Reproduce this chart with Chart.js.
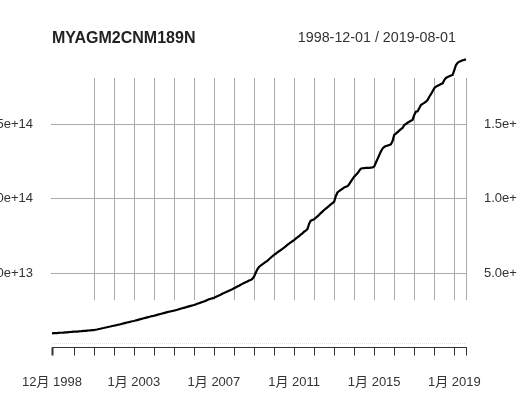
<!DOCTYPE html>
<html>
<head>
<meta charset="utf-8">
<script src="https://cdn.jsdelivr.net/npm/chart.js@4/dist/chart.umd.min.js"></script>
<style>
  html, body { margin: 0; padding: 0; background: #fff; }
  canvas { display: block; }
</style>
</head>
<body>
<canvas id="chart" width="518" height="399"></canvas>
<script>
const seriesName = 'MYAGM2CNM189N';
const rangeText = '1998-12-01 / 2019-08-01';

// monthly, 1998-12 .. 2019-08, in units of 1e12
const m2Values = [
  9.5,
  9.6, 9.6, 9.7, 9.8, 9.9, 9.9, 10.0, 10.1, 10.2, 10.3, 10.4, 10.5,
  10.6, 10.7, 10.7, 10.8, 10.9, 11.0, 11.1, 11.2, 11.3, 11.4, 11.5, 11.6,
  11.7, 11.9, 12.1, 12.4, 12.6, 12.9, 13.1, 13.4, 13.6, 13.9, 14.1, 14.4,
  14.6, 14.8, 15.1, 15.4, 15.6, 15.9, 16.2, 16.5, 16.8, 17.0, 17.3, 17.6,
  17.8, 18.1, 18.4, 18.7, 19.0, 19.3, 19.6, 19.9, 20.2, 20.5, 20.8, 21.1,
  21.3, 21.6, 21.9, 22.2, 22.5, 22.8, 23.1, 23.4, 23.7, 24.0, 24.2, 24.5,
  24.7, 25.0, 25.3, 25.7, 26.0, 26.3, 26.6, 26.9, 27.3, 27.6, 27.9, 28.2,
  28.5, 28.9, 29.3, 29.7, 30.1, 30.5, 30.9, 31.3, 31.8, 32.3, 32.7, 33.0,
  33.4, 33.9, 34.4, 34.9, 35.4, 36.0, 36.5, 37.0, 37.6, 38.1, 38.6, 39.1,
  39.7, 40.3, 40.9, 41.5, 42.1, 42.7, 43.3, 43.8, 44.3, 45.0, 45.3, 46.0,
  47.5, 50.0, 52.5, 54.0, 55.0, 55.8, 56.6, 57.4, 58.2, 59.2, 60.2, 61.2,
  62.1, 62.9, 63.8, 64.6, 65.4, 66.2, 67.0, 67.9, 68.8, 69.7, 70.5, 71.3,
  72.1, 73.0, 73.9, 74.8, 75.7, 76.6, 77.7, 78.4, 79.5, 83.0, 85.1, 85.6,
  86.0, 87.0, 88.0, 89.0, 90.2, 91.2, 92.3, 93.2, 94.1, 95.0, 96.0, 96.9,
  97.8, 101.5, 104.0, 105.0, 105.8, 106.5, 107.4, 107.9, 108.2, 109.5, 111.3, 113.0,
  114.6, 115.8, 116.9, 118.5, 120.0, 120.3, 120.4, 120.5, 120.6, 120.6, 120.7, 120.8,
  121.5, 124.0, 126.5, 129.0, 131.5, 133.5, 134.6, 135.2, 135.5, 135.9, 136.3, 138.5,
  142.6, 143.5, 144.5, 145.5, 146.5, 147.3, 149.3, 150.0, 150.8, 151.5, 152.2, 152.7,
  156.0, 158.2, 158.5, 160.5, 162.7, 163.5, 164.2, 165.0, 166.1, 168.3, 170.0, 172.0,
  174.0, 175.0, 175.6, 176.2, 176.8, 177.3, 179.5, 180.9, 181.5, 182.0, 182.5, 182.9,
  186.2, 189.6, 191.0, 191.8, 192.2, 192.8, 193.0, 193.4
];

// y ticks (same 1e12 units) and their labels
const yTickValues = [50, 100, 150];
const yTickLabels = ['5.0e+13', '1.0e+14', '1.5e+14'];

// x: month index from 1998-12; ticks at each January plus both ends
const xTickIndex = [0, 13, 25, 37, 49, 61, 73, 85, 97, 109, 121, 133, 145, 157, 169, 181, 193, 205, 217, 229, 241, 248];
const xGridIndex = [25, 37, 49, 61, 73, 85, 97, 109, 121, 133, 145, 157, 169, 181, 193, 205, 217, 229, 241, 248];
const xLabelIndex = [0, 49, 97, 145, 193, 241];
const xLabels = ['12月 1998', '1月 2003', '1月 2007', '1月 2011', '1月 2015', '1月 2019'];

const FONT = '"Liberation Sans", Arial, "Noto Sans CJK SC", sans-serif';

const xtsDecor = {
  id: 'xtsDecor',
  beforeDatasetsDraw(chart) {
    const { ctx, chartArea, scales } = chart;
    const x = scales.x, y = scales.y;
    ctx.save();
    ctx.lineWidth = 1;
    ctx.strokeStyle = '#aaaaaa';
    // horizontal grid
    yTickValues.forEach((v) => {
      const py = Math.round(y.getPixelForValue(v)) + 0.5;
      ctx.beginPath();
      ctx.moveTo(chartArea.left - 1, py);
      ctx.lineTo(chartArea.right, py);
      ctx.stroke();
    });
    // vertical grid
    xGridIndex.forEach((i) => {
      const px = Math.round(x.getPixelForValue(i)) + 0.5;
      ctx.beginPath();
      ctx.moveTo(px, 78);
      ctx.lineTo(px, 300);
      ctx.stroke();
    });
    // dotted line along the bottom
    ctx.strokeStyle = '#dddddd';
    ctx.setLineDash([1, 1]);
    ctx.beginPath();
    ctx.moveTo(chartArea.left, 343.5);
    ctx.lineTo(chartArea.right, 343.5);
    ctx.stroke();
    ctx.setLineDash([]);
    ctx.restore();
  },
  afterDraw(chart) {
    const { ctx, chartArea, scales } = chart;
    const x = scales.x, y = scales.y;
    ctx.save();
    // title and range
    ctx.fillStyle = '#222222';
    ctx.font = 'bold 16px ' + FONT;
    ctx.textBaseline = 'alphabetic';
    ctx.textAlign = 'left';
    ctx.fillText(seriesName, 52, 42.5);
    ctx.font = '14.3px ' + FONT;
    ctx.fillStyle = '#333333';
    ctx.textAlign = 'right';
    ctx.fillText(rangeText, 456, 42);

    // x axis line and ticks
    ctx.strokeStyle = '#333333';
    ctx.lineWidth = 1;
    const axisY = 347.5;
    ctx.beginPath();
    ctx.moveTo(chartArea.left, axisY);
    ctx.lineTo(chartArea.right + 1, axisY);
    ctx.stroke();
    xTickIndex.forEach((i, k) => {
      const px = Math.round(x.getPixelForValue(i)) + 0.5;
      ctx.lineWidth = k === 0 ? 2 : 1;
      ctx.beginPath();
      ctx.moveTo(px, axisY);
      ctx.lineTo(px, axisY + 8);
      ctx.stroke();
    });

    // x labels
    ctx.font = '13px ' + FONT;
    ctx.fillStyle = '#333333';
    ctx.textAlign = 'center';
    ctx.textBaseline = 'middle';
    xLabelIndex.forEach((i, k) => {
      ctx.fillText(xLabels[k], x.getPixelForValue(i), 382);
    });

    // y labels, both sides
    yTickValues.forEach((v, k) => {
      const py = y.getPixelForValue(v);
      ctx.textAlign = 'right';
      ctx.fillText(yTickLabels[k], 33, py);
      ctx.textAlign = 'left';
      ctx.fillText(yTickLabels[k], 484, py);
    });
    ctx.restore();
  }
};

new Chart(document.getElementById('chart'), {
  type: 'line',
  data: {
    datasets: [{
      label: seriesName,
      data: m2Values.map((v, i) => ({ x: i, y: v })),
      borderColor: '#000000',
      borderWidth: 2.2,
      pointRadius: 0,
      tension: 0,
      fill: false
    }]
  },
  options: {
    responsive: false,
    animation: false,
    layout: { padding: { left: 52, right: 52, top: 52, bottom: 56 } },
    plugins: { legend: { display: false }, tooltip: { enabled: false } },
    scales: {
      x: { type: 'linear', min: 0, max: 248, display: false },
      y: { type: 'linear', min: 3.02, max: 198.3, display: false }
    }
  },
  plugins: [xtsDecor]
});
</script>
</body>
</html>
